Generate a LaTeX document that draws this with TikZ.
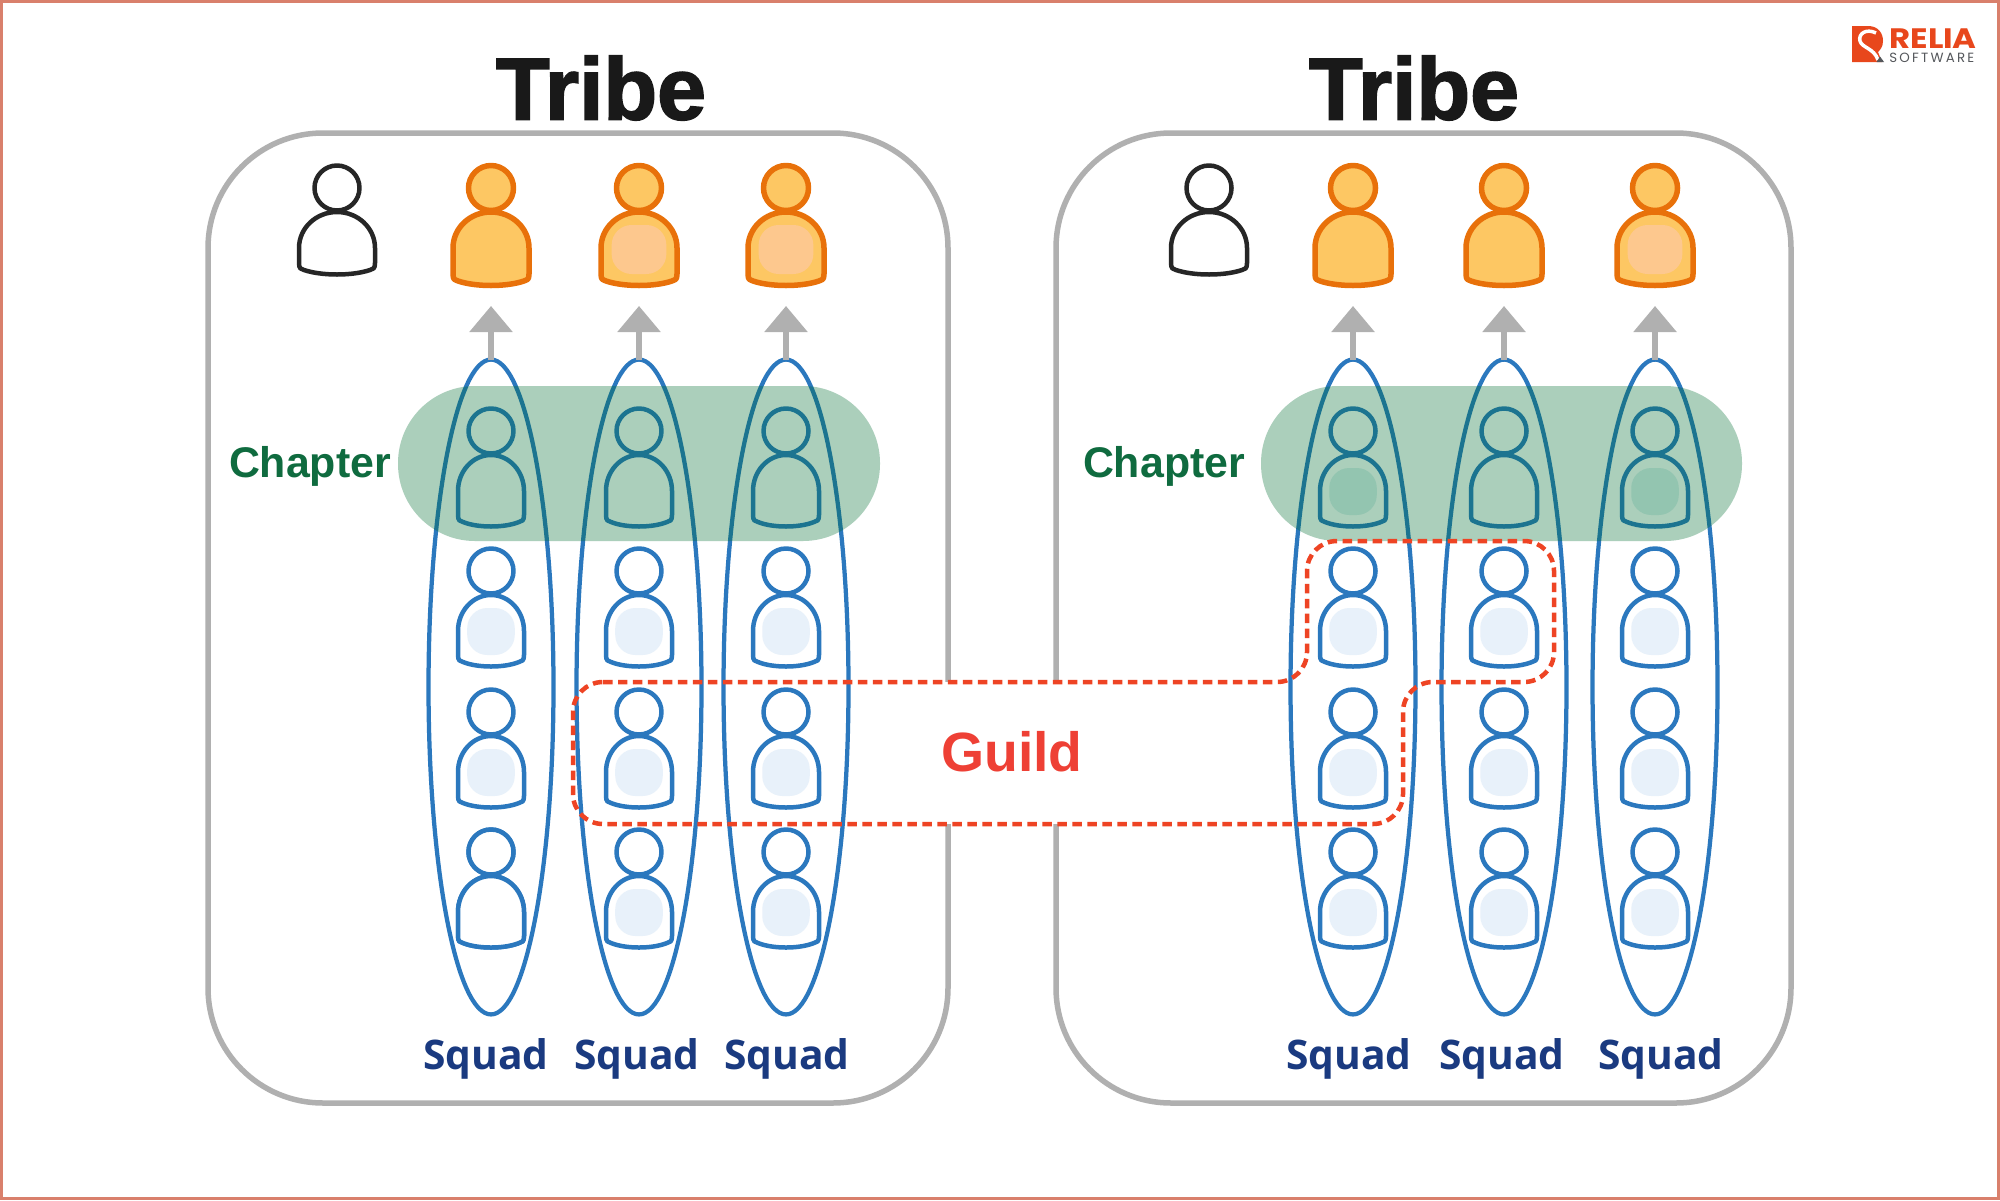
\documentclass[tikz,border=0pt]{standalone}
\usepackage{fontspec}
\setmainfont{Liberation Sans}
\newfontfamily\tribefont[BoldFeatures={FakeBold=2}]{Liberation Sans}
\newfontfamily\squadfont{Open Sans}
\newfontfamily\logofont{Poppins}
\usetikzlibrary{arrows.meta,shapes.geometric}
\definecolor{frameline}{HTML}{D9806C}
\definecolor{tribeline}{HTML}{B0B0B0}
\definecolor{squadline}{HTML}{2B78BE}
\definecolor{chapterband}{HTML}{006E33}
\definecolor{chaptertext}{HTML}{0F6B3F}
\definecolor{squadtext}{HTML}{1A3A80}
\definecolor{guildline}{HTML}{EE4424}
\definecolor{guildtext}{HTML}{EE4035}
\definecolor{leadline}{HTML}{E8710A}
\definecolor{leadfill}{HTML}{FDC763}
\definecolor{peach}{HTML}{FDC88E}
\definecolor{paleblue}{HTML}{E8F1FA}
\definecolor{shadeblue}{HTML}{DCF0EE}
\definecolor{logored}{HTML}{E8471C}
\definecolor{loggray}{HTML}{55585C}
\tikzset{
  tribebox/.style={draw=tribeline,line width=0.11cm,rounded corners=2.3cm},
  squadring/.style={draw=squadline,line width=0.085cm,ellipse,inner sep=0,outer sep=0,
    minimum width=2.5cm,minimum height=13.1cm},
  upline/.style={draw=tribeline,line width=0.115cm,-{Triangle[length=0.52cm,width=0.84cm]}},
  band/.style={fill=chapterband,fill opacity=0.33,rounded corners=1.54cm},
  guildpath/.style={draw=guildline,line width=0.09cm,dash pattern=on 0.19cm off 0.11cm,rounded corners=0.6cm},
  leadman/.style={draw=leadline,fill=leadfill,line width=0.11cm,line join=round},
  memberman/.style={draw=squadline,fill=white,line width=0.09cm,line join=round},
  bossman/.style={draw=black!85,fill=white,line width=0.09cm,line join=round},
}
% x, y of the head, style, half width, foot, colour of the patch
\newcommand{\person}[6]{
  \begin{scope}[shift={(#1,#2)}]
    \draw[#3] (-#4,#5-12) -- (-#4,60) .. controls (-#4,40) and (-#4*0.55,24) .. (0,24)
      .. controls (#4*0.55,24) and (#4,40) .. (#4,60) -- (#4,#5-12)
      .. controls (#4,#5-6) and (#4-2,#5-6) .. (#4-5,#5-5)
      .. controls (#4*0.4,#5+1) and (-#4*0.4,#5+1) .. (-#4+5,#5-5)
      .. controls (-#4+2,#5-6) and (-#4,#5-6) .. cycle;
    \fill[#6,rounded corners=0.4cm] (-#4*0.72,37) rectangle (#4*0.72,#5-12);
    \draw[#3] (0,0) circle (22.5);
  \end{scope}
}
\begin{document}
\begin{tikzpicture}[x=0.02cm,y=-0.02cm]
  \useasboundingbox (0,0) rectangle (2000,1200);
  \draw[frameline,line width=0.06cm,fill=white] (1.5,1.5) rectangle (1998.5,1198.5);
  % the two tribes
  \draw[tribebox] (208,133) rectangle (948,1103);
  \draw[tribebox] (1056,133) rectangle (1791,1103);
  \node[font=\tribefont\bfseries\fontsize{50}{52}\selectfont,text=black!90] (tribeA) at (601,88) {Tribe};
  \node[font=\tribefont\bfseries\fontsize{50}{52}\selectfont,text=black!90] (tribeB) at (1414,88) {Tribe};
  % guild covers the tribe borders
  \fill[white] (573,682) rectangle (1403,824);
  % squads
  \foreach \cname/\cx/\ctop in {a/491/white,b/639/white,c/786/white,d/1353/shadeblue,e/1504/white,f/1655/shadeblue} {
    \node[squadring] (squad\cname) at (\cx,687) {};
    \coordinate (tip\cname) at (\cx,306);
    \draw[upline] (squad\cname.north) -- (tip\cname);
    \person{\cx}{431}{memberman}{33}{96}{\ctop}
    \foreach \ry in {571,712,852} {
      \person{\cx}{\ry}{memberman}{33}{96}{paleblue}
    }
  }
  \person{491}{852}{memberman}{33}{96}{white}
  % lead row
  \person{491}{188}{leadman}{38}{98}{leadfill}
  \person{639}{188}{leadman}{38}{98}{peach}
  \person{786}{188}{leadman}{38}{98}{peach}
  \person{1353}{188}{leadman}{38}{98}{leadfill}
  \person{1504}{188}{leadman}{38}{98}{leadfill}
  \person{1655}{188}{leadman}{38}{98}{peach}
  \person{337}{188}{bossman}{38}{87}{white}
  \person{1209}{188}{bossman}{38}{87}{white}
  % chapters
  \fill[band] (398,386) rectangle (880,541);
  \fill[band] (1261,386) rectangle (1742,541);
  \node[font=\bfseries\fontsize{24.4}{26}\selectfont,text=chaptertext] (chapterA) at (310,466) {Chapter};
  \node[font=\bfseries\fontsize{24.4}{26}\selectfont,text=chaptertext] (chapterB) at (1164,466) {Chapter};
  % guild
  \draw[guildpath] (573,682) -- (1307,682) -- (1307,541) -- (1554,541) -- (1554,682)
    -- (1403,682) -- (1403,824) -- (573,824) -- cycle;
  \node[font=\bfseries\fontsize{31.5}{33}\selectfont,text=guildtext] (guild) at (1012,752) {Guild};
  % squad names
  \foreach \sname/\sx in {a/486,b/637,c/787,d/1349,e/1502,f/1661} {
    \node[font=\squadfont\bfseries\fontsize{23.2}{25}\selectfont,text=squadtext] (name\sname) at (\sx,1059) {Squad};
  }
  % logo
  \fill[logored] (1852,26) -- (1868,26) .. controls (1878,26) and (1883,33) .. (1883,41)
    .. controls (1883,47) and (1880,50) .. (1878,52) -- (1882,62) -- (1852,62) -- cycle;
  \draw[white,line width=0.07cm] (1876,33) .. controls (1866,28) and (1858,34) .. (1860,41)
    .. controls (1862,48) and (1874,48) .. (1878,60);
  \fill[loggray] (1876.5,62) -- (1880,56.5) -- (1884,62) -- cycle;
  \node[anchor=base west,inner sep=0,xscale=1.15,font=\logofont\bfseries\fontsize{16}{17}\selectfont,text=logored] (relia) at (1889,48) {RELIA};
  \node[anchor=base west,inner sep=0,font=\logofont\fontsize{7.6}{8}\selectfont,text=loggray] (soft) at (1889,62) {S\,O\,F\,T\,W\,A\,R\,E};
\end{tikzpicture}
\end{document}
